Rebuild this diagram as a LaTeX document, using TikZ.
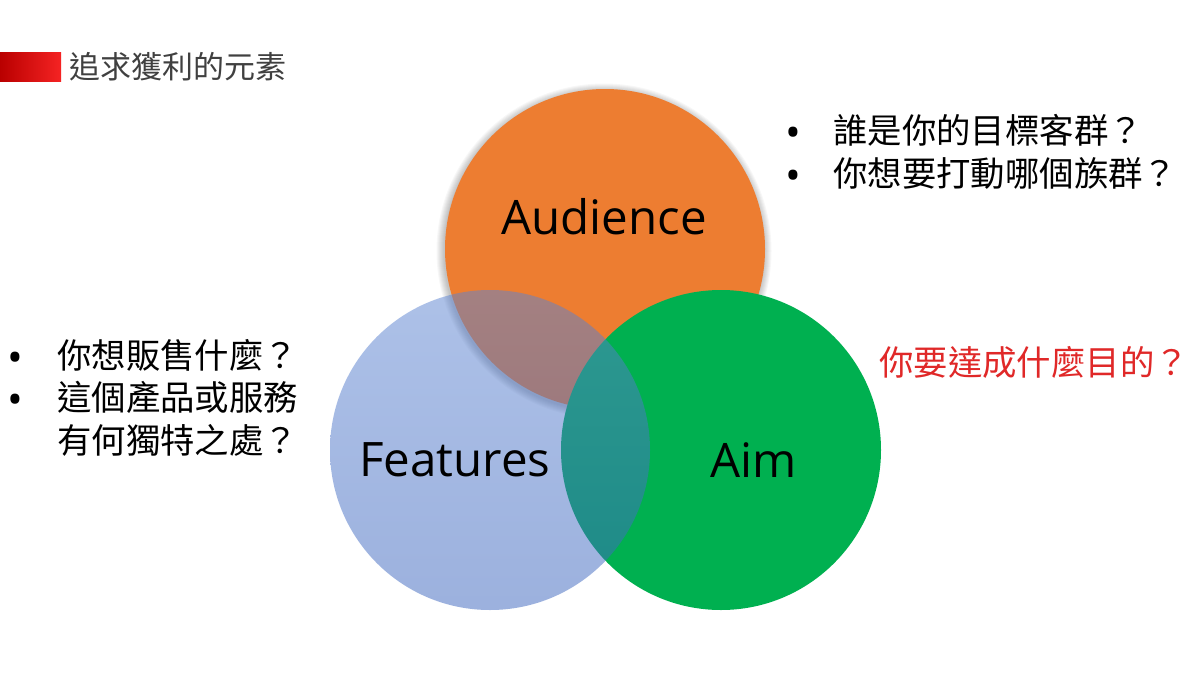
\documentclass[tikz,border=0pt]{standalone}
\usepackage{fontspec}
\setmainfont{Open Sans}
\newfontfamily\cjk{Noto Sans CJK TC}
\definecolor{audc}{RGB}{237,125,49}
\definecolor{aimc}{RGB}{0,176,80}
\definecolor{feattop}{RGB}{92,132,210}
\definecolor{featbot}{RGB}{58,100,190}
\definecolor{redtxt}{RGB}{224,40,40}
\definecolor{hdr}{RGB}{64,64,64}
\definecolor{bardark}{RGB}{185,0,0}
\definecolor{barlight}{RGB}{245,35,35}
\begin{document}
\begin{tikzpicture}[x=1pt,y=-1pt,
  venn/.style={circle, inner sep=0pt, minimum size=320pt},
  vlabel/.style={font=\fontsize{47.5}{52}\selectfont, text=black, inner sep=0pt},
  cjktext/.style={font=\cjk\fontsize{34.4}{42}\selectfont, anchor=west, inner sep=0pt, text=black},
  bulletmark/.style={font=\fontsize{42}{48}\selectfont, inner sep=0pt, text=black},
  softshadow/.style={fill=black, opacity=0.03}
]
\useasboundingbox (0,0) rectangle (1200,675);
\fill[white] (0,0) rectangle (1200,675);

% header
\shade[left color=bardark, right color=barlight] (0,52) rectangle (61,81);
\node[font=\cjk\fontsize{31}{36}\selectfont, text=hdr, anchor=west, inner sep=0pt] (title) at (69,67) {追求獲利的元素};

% soft shadow of the orange circle
\foreach \r in {160.5,161.5,...,167.5}
  \fill[softshadow] (604,251) circle[radius=\r pt];

% circles
\node[venn, fill=audc] (aud) at (605,249) {};
\node[venn, fill=aimc] (aim) at (721,450) {};
\node[venn, top color=feattop, bottom color=featbot, fill opacity=0.5] (feat) at (490,450) {};

% labels
\node[vlabel] (audl) at (604,217) {Audience};
\node[vlabel] (featl) at (455,460) {Features};
\node[vlabel] (aiml) at (754,460) {Aim};

% right bullets
\node[bulletmark] (b1) at (793,137) {•};
\node[cjktext] (t1) at (833,130) {誰是你的目標客群？};
\node[bulletmark] (b2) at (793,180) {•};
\node[cjktext] (t2) at (833,173) {你想要打動哪個族群？};

% left bullets
\node[bulletmark] (b3) at (15,362) {•};
\node[cjktext] (t3) at (57,355) {你想販售什麼？};
\node[bulletmark] (b4) at (15,404) {•};
\node[cjktext] (t4) at (57,397) {這個產品或服務};
\node[cjktext] (t5) at (57,440) {有何獨特之處？};

% aim question
\node[cjktext, text=redtxt] (q) at (879,362) {你要達成什麼目的？};
\end{tikzpicture}
\end{document}
